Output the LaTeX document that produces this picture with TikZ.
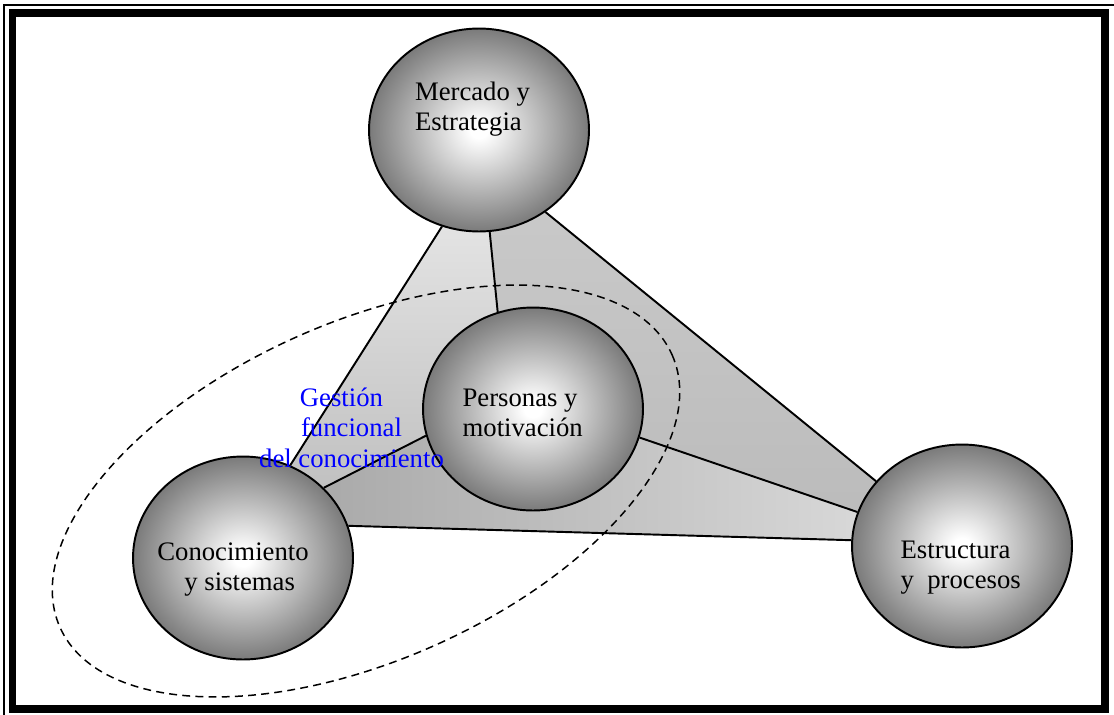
\documentclass[tikz,border=0pt]{standalone}
\usepackage{fontspec}
\setmainfont{Liberation Serif}
\usetikzlibrary{shapes.geometric, backgrounds}

\pgfdeclareradialshading{sphere}{\pgfpoint{0bp}{0bp}}{color(0bp)=(white); color(2bp)=(white); color(25bp)=(black!52); color(50bp)=(black!52)}

\tikzset{
    ball/.style={ellipse, draw, line width=1.1pt, minimum width=4.4cm, minimum height=4.06cm, shade, shading=sphere},
    rim/.style={line width=1.1pt},
    lbl/.style={font=\fontsize{15.2}{17.1}\selectfont, inner sep=0pt}
}

\begin{document}
\begin{tikzpicture}[x=0.02cm, y=-0.02cm]
                                \useasboundingbox (0, 0) rectangle (1114, 714);

                                \node[ball] (M) at (479, 130) {};
                                \node[ball] (P) at (533, 409) {};
                                \node[ball] (C) at (243, 558) {};
                                \node[ball] (E) at (962, 546) {};

                                \node[lbl, align=left] (mtext) at (472.5, 109.3) {Mercado y\\Estrategia};
                                \node[lbl, align=left] (ptext) at (522.7, 413) {Personas y\\motivación};
                                \node[lbl, align=center] (ctext) at (233, 569.7) {Conocimiento\\\hspace*{0.5em}y sistemas};
                                \node[lbl, align=left] (etext) at (960.7, 567.5) {Estructura\\y\ \ procesos};
                                \node[lbl, blue, align=center] (gtext) at (351.5, 427.8) {Gestión\hspace*{0.75em}\\funcional\hspace*{0.75em}\\del conocimiento};

                                \begin{pgfonlayer}{background}
                                \draw[line width=0.85pt] (4, 5) rectangle (1120, 720);
                                \draw[line width=4.3pt] (12.5, 13) rectangle (1105, 709);

                                \shade[top color=black!6, bottom color=black!28]
                                (M.-111) -- (C.63) -- (C.center) -- (C.41) -- (P.-166) -- (P.center) -- (P.110) -- (M.-84) -- (M.center) -- cycle;
                                \shade[top color=black!20, bottom color=black!27]
                                (M.-84) -- (P.110) -- (P.center) -- (P.-15) -- (E.162) -- (E.center) -- (E.143) -- (M.-51) -- (M.center) -- cycle;
                                \shade[left color=black!36, right color=black!12]
                                (C.41) -- (P.-166) -- (P.center) -- (P.-15) -- (E.162) -- (E.center) -- (E.177) -- (C.17) -- (C.center) -- cycle;

                                \draw[rim]
                                (M.-111) edge (C.63)
                                (M.-84) edge (P.110)
                                (M.-51) edge (E.143)
                                (P.-166) edge (C.41)
                                (P.-15) edge (E.162)
                                (C.17) -- (E.177);

                                \draw[line width=0.85pt, dash pattern=on 4.5pt off 3pt, rotate around={24:(366, 491)}]
                                (366, 491) ellipse [x radius=335, y radius=169];
                                \end{pgfonlayer}
                            \end{tikzpicture}
\end{document}
